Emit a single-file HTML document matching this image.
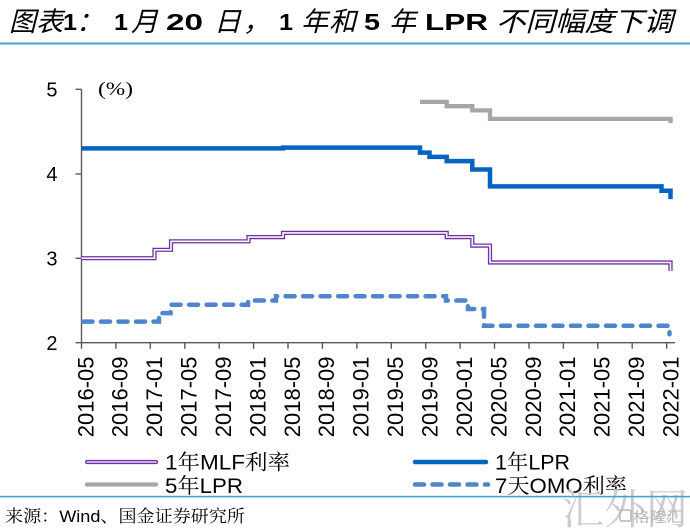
<!DOCTYPE html>
<html><head><meta charset="utf-8"><style>
html,body{margin:0;padding:0;background:#fff;}
svg{display:block;}
.cj{font-family:"Liberation Sans","Noto Sans CJK SC",sans-serif;}
.ls{font-family:"Liberation Sans",sans-serif;}
.lg{font-family:"Liberation Sans","Noto Serif CJK SC",serif;}
</style></head><body>
<svg width="690" height="531" viewBox="0 0 690 531" xmlns="http://www.w3.org/2000/svg">
<rect width="690" height="531" fill="#fff"/>
<!-- Title -->
<g fill="#000">
<text class="cj" x="9" y="31" font-size="27" font-style="italic" textLength="54" lengthAdjust="spacingAndGlyphs">图表</text>
<text class="ls" x="63" y="30" font-size="23" font-weight="bold" textLength="14" lengthAdjust="spacingAndGlyphs">1</text>
<text class="cj" x="76" y="31" font-size="27" font-style="italic">：</text>
<text class="ls" x="114" y="30" font-size="23" font-weight="bold" textLength="14" lengthAdjust="spacingAndGlyphs">1</text>
<text class="cj" x="131" y="31" font-size="27" font-style="italic">月</text>
<text class="ls" x="166" y="30" font-size="23" font-weight="bold" textLength="37" lengthAdjust="spacingAndGlyphs">20</text>
<text class="cj" x="214" y="31" font-size="27" font-style="italic">日</text>
<text class="cj" x="243" y="31" font-size="27" font-style="italic">，</text>
<text class="ls" x="279" y="30" font-size="23" font-weight="bold" textLength="14" lengthAdjust="spacingAndGlyphs">1</text>
<text class="cj" x="301" y="31" font-size="27" font-style="italic">年</text>
<text class="cj" x="329" y="31" font-size="27" font-style="italic">和</text>
<text class="ls" x="364" y="30" font-size="23" font-weight="bold" textLength="16" lengthAdjust="spacingAndGlyphs">5</text>
<text class="cj" x="389" y="31" font-size="27" font-style="italic">年</text>
<text class="ls" x="425" y="30" font-size="23" font-weight="bold" textLength="63" lengthAdjust="spacingAndGlyphs">LPR</text>
<text class="cj" x="496" y="31" font-size="27" font-style="italic" textLength="177" lengthAdjust="spacingAndGlyphs">不同幅度下调</text>
</g>
<rect x="0" y="42.5" width="690" height="2" fill="#45A2D6"/>

<!-- Axes -->
<g stroke="#595959" stroke-width="1.4" fill="none">
<line x1="81.5" y1="89.3" x2="81.5" y2="342.7"/>
<line x1="81.5" y1="342.7" x2="675" y2="342.7"/>
<line x1="75.5" y1="89.3" x2="81.5" y2="89.3"/>
<line x1="75.5" y1="174" x2="81.5" y2="174"/>
<line x1="75.5" y1="258.3" x2="81.5" y2="258.3"/>
<line x1="75.5" y1="342.7" x2="81.5" y2="342.7"/>
<path d="M81.5,342.7V348.7 M115.9,342.7V348.7 M150.3,342.7V348.7 M184.8,342.7V348.7 M219.2,342.7V348.7 M253.6,342.7V348.7 M288,342.7V348.7 M322.4,342.7V348.7 M356.9,342.7V348.7 M391.3,342.7V348.7 M425.7,342.7V348.7 M460.1,342.7V348.7 M494.5,342.7V348.7 M529,342.7V348.7 M563.4,342.7V348.7 M597.8,342.7V348.7 M632.2,342.7V348.7 M666.7,342.7V348.7"/>
</g>

<!-- Y labels -->
<g class="ls" font-size="20" fill="#000" text-anchor="end">
<text x="57.5" y="96.5">5</text>
<text x="57.5" y="181.2">4</text>
<text x="57.5" y="265.5">3</text>
<text x="57.5" y="349.9">2</text>
</g>
<text x="98" y="95" font-family="Liberation Serif, serif" font-size="19" textLength="35" lengthAdjust="spacingAndGlyphs">(%)</text>

<!-- X labels -->
<g class="ls" font-size="22" fill="#000" text-anchor="end">
<text transform="translate(93.3,356.5) rotate(-90)">2016-05</text>
<text transform="translate(127.7,356.5) rotate(-90)">2016-09</text>
<text transform="translate(162.1,356.5) rotate(-90)">2017-01</text>
<text transform="translate(196.6,356.5) rotate(-90)">2017-05</text>
<text transform="translate(231,356.5) rotate(-90)">2017-09</text>
<text transform="translate(265.4,356.5) rotate(-90)">2018-01</text>
<text transform="translate(299.8,356.5) rotate(-90)">2018-05</text>
<text transform="translate(334.2,356.5) rotate(-90)">2018-09</text>
<text transform="translate(368.7,356.5) rotate(-90)">2019-01</text>
<text transform="translate(403.1,356.5) rotate(-90)">2019-05</text>
<text transform="translate(437.5,356.5) rotate(-90)">2019-09</text>
<text transform="translate(471.9,356.5) rotate(-90)">2020-01</text>
<text transform="translate(506.3,356.5) rotate(-90)">2020-05</text>
<text transform="translate(540.8,356.5) rotate(-90)">2020-09</text>
<text transform="translate(575.2,356.5) rotate(-90)">2021-01</text>
<text transform="translate(609.6,356.5) rotate(-90)">2021-05</text>
<text transform="translate(644,356.5) rotate(-90)">2021-09</text>
<text transform="translate(678.5,356.5) rotate(-90)">2022-01</text>
</g>

<!-- Series -->
<g fill="none" stroke-linejoin="miter">
<path d="M420,101.9 H446.7 V106.2 H472.3 V110.4 H490 V118.9 H670.5 V123.1" stroke="#A6A6A6" stroke-width="4.3"/>
<path d="M81.5,148.4 H283 V147.6 H420 V152.6 H429.5 V156.9 H446.7 V161.1 H472.3 V169.5 H490 V186.4 H661.5 V190.7 H670.5 V199.1" stroke="#0563C1" stroke-width="4.5"/>
<path d="M81.5,258.2 H154.5 V249.8 H171 V241.3 H248.5 V237.1 H283 V232.9 H446.7 V237.1 H472.3 V245.6 H490 V262.5 H670.5 V270.9" stroke="#7030A0" stroke-width="4.2"/>
<path d="M81.5,258.2 H154.5 V249.8 H171 V241.3 H248.5 V237.1 H283 V232.9 H446.7 V237.1 H472.3 V245.6 H490 V262.5 H670.5 V270.9" stroke="#FBF8FE" stroke-width="1.6"/>
<path d="M83.5,321.6 H159 V313.1 H170.5 V304.7 H248 V300.5 H276 V296.2 H446 V300.5 H468 V309 H484 V325.8 H669.5 V334.3" stroke="#4F85CC" stroke-width="4.5" stroke-dasharray="9 8.5" stroke-linecap="round"/>
</g>

<!-- Legend -->
<g fill="none">
<line x1="87" y1="462" x2="156" y2="462" stroke="#7030A0" stroke-width="4.2" stroke-linecap="round"/>
<line x1="87" y1="462" x2="156" y2="462" stroke="#E6D8F3" stroke-width="1.6" stroke-linecap="round"/>
<line x1="87" y1="484.5" x2="156" y2="484.5" stroke="#A6A6A6" stroke-width="4.3" stroke-linecap="round"/>
<line x1="415" y1="462" x2="486" y2="462" stroke="#0563C1" stroke-width="4.5" stroke-linecap="round"/>
<line x1="415" y1="484.5" x2="488" y2="484.5" stroke="#4F85CC" stroke-width="4.5" stroke-dasharray="9 8.5" stroke-linecap="round"/>
</g>
<g class="lg" font-size="21" fill="#000">
<text x="165" y="469.5" textLength="125" lengthAdjust="spacingAndGlyphs">1年MLF利率</text>
<text x="165" y="493" textLength="78" lengthAdjust="spacingAndGlyphs">5年LPR</text>
<text x="495" y="469.5" textLength="75" lengthAdjust="spacingAndGlyphs">1年LPR</text>
<text x="495" y="493" textLength="132" lengthAdjust="spacingAndGlyphs">7天OMO利率</text>
</g>

<!-- Watermark -->
<text x="562" y="524" font-family="Noto Serif CJK SC, serif" font-size="42" fill="#CCCCCC" textLength="126" lengthAdjust="spacingAndGlyphs">汇外网</text>
<rect x="620" y="510" width="11" height="11" rx="2" fill="none" stroke="#B5B5B5" stroke-width="1.5"/>
<text x="633" y="522" font-family="Noto Sans CJK SC, sans-serif" font-size="14" fill="#B5B5B5" textLength="50" lengthAdjust="spacingAndGlyphs">格隆汇</text>

<rect x="0" y="495.8" width="690" height="1.6" fill="#45A2D6"/>
<text x="5" y="522" font-family="Liberation Sans, Noto Serif CJK SC, serif" font-size="17" fill="#000" textLength="240" lengthAdjust="spacingAndGlyphs">来源：Wind、国金证券研究所</text>
</svg>
</body></html>
